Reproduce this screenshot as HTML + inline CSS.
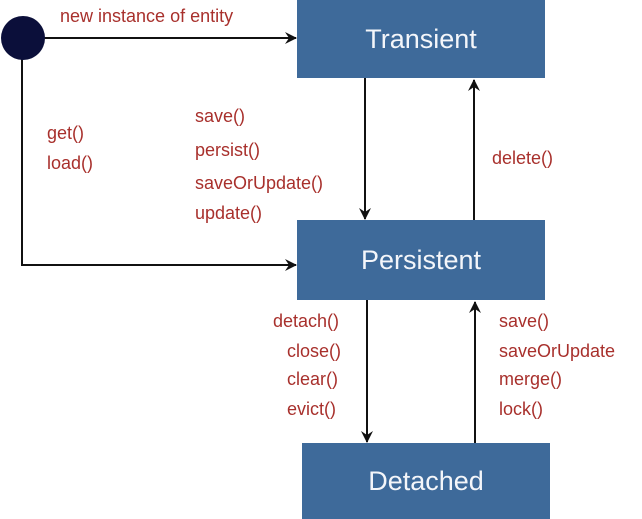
<!DOCTYPE html>
<html><head><style>
body{margin:0;width:642px;height:519px;background:#fff;overflow:hidden;position:relative;font-family:"Liberation Sans",sans-serif}
.b{position:absolute;background:#3e6a9a;color:#f4f6fa;font-size:27px;display:flex;align-items:center;justify-content:center}
.t{position:absolute;color:#a8302c;font-size:18px;line-height:1;transform:translate(0,-50%)}
svg{position:absolute;left:0;top:0}
</style></head><body>
<svg width="642" height="519">
<defs><marker id="a" markerWidth="12" markerHeight="12" refX="11" refY="6" orient="auto" markerUnits="userSpaceOnUse"><path d="M0,0 L12,6 L0,12 L4,6z" fill="#111"/></marker></defs>
<g stroke="#111" stroke-width="2" fill="none">
<line x1="40" y1="38" x2="296" y2="38" marker-end="url(#a)"/>
<polyline points="22,55 22,265 296,265" marker-end="url(#a)"/>
<line x1="365" y1="78" x2="365" y2="219" marker-end="url(#a)"/>
<line x1="474" y1="220" x2="474" y2="80" marker-end="url(#a)"/>
<line x1="367" y1="300" x2="367" y2="442" marker-end="url(#a)"/>
<line x1="475" y1="443" x2="475" y2="302" marker-end="url(#a)"/>
</g>
<circle cx="23" cy="38" r="22" fill="#0b0f3a"/>
</svg>
<div class="b" style="left:297px;top:0;width:248px;height:78px">Transient</div>
<div class="b" style="left:297px;top:220px;width:248px;height:80px">Persistent</div>
<div class="b" style="left:302px;top:443px;width:248px;height:76px">Detached</div>
<div class="t" style="left:60px;top:16px">new instance of entity</div>
<div class="t" style="left:47px;top:133px">get()</div>
<div class="t" style="left:47px;top:163px">load()</div>
<div class="t" style="left:195px;top:116px">save()</div>
<div class="t" style="left:195px;top:150px">persist()</div>
<div class="t" style="left:195px;top:183px">saveOrUpdate()</div>
<div class="t" style="left:195px;top:213px">update()</div>
<div class="t" style="left:492px;top:158px">delete()</div>
<div class="t" style="left:273px;top:321px">detach()</div>
<div class="t" style="left:287px;top:351px">close()</div>
<div class="t" style="left:287px;top:379px">clear()</div>
<div class="t" style="left:287px;top:409px">evict()</div>
<div class="t" style="left:499px;top:321px">save()</div>
<div class="t" style="left:499px;top:351px">saveOrUpdate</div>
<div class="t" style="left:499px;top:379px">merge()</div>
<div class="t" style="left:499px;top:409px">lock()</div>
</body></html>
